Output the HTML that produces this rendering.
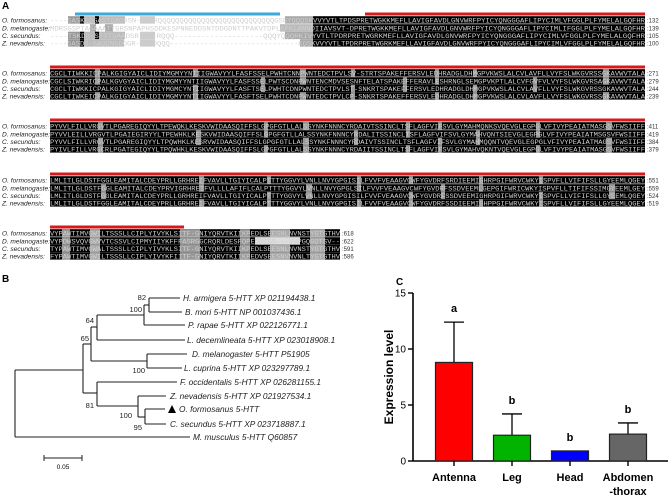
<!DOCTYPE html>
<html><head><meta charset="utf-8"><style>
html,body{margin:0;padding:0;background:#fff;}
svg{display:block;font-family:"Liberation Sans",sans-serif;}
</style></head><body>
<svg id="fig" width="669" height="498" viewBox="0 0 669 498">
<g id="panelA"></g>
<g id="panelB"></g>
<g id="panelC"></g>
</svg>
<script>
const NS="http://www.w3.org/2000/svg";
function mk(parent,tag,attrs,text){const e=document.createElementNS(NS,tag);for(const k in attrs)e.setAttribute(k,attrs[k]);if(text!==undefined)e.textContent=text;parent.appendChild(e);return e;}

/* ---------- Panel A: alignment ---------- */
const species=["O. formosanus:","D. melanogaste:","C. secundus:","Z. nevadensis:"];
const blockTops=[14,67,120,174,227];
const rowOffsets=[6,14,21.5,29];
const endNums=[[132,139,105,100],[271,279,244,239],[411,419,384,379],[551,559,524,519],[618,622,591,586]];
const seqs=[
["----SASKEQGASTQADRSN----RQQQQQQQQQQQQQQQQQQQQQQQQQQQGSGYQQQSKVVYVTLTPDSPRETWGKKMEFLLAVIGFAVDLGNVWRFPYICYQNGGGAFLIPYCIMLVFGGLPLFYMELALGQFHR",
 "MDRSGSPTAGAAATTGRSNPAPHSDDKESPNNEDDSNTDDGDNTTPAKVTDPLAPKLANNDIIAVSVT-DPRETWGKKMEFLLAVIGFAVDLGNVWRFPYICYQNGGGAFLIPYCIMLIFGGLPLFYMELALGQFHR",
 "----TSKDQ-STSTQAADSR----RQQQ--------------------QQQYQQQRKIVYVTLTPDRPRETWGRKMEFLLAVIGFAVDLGNVWRFPYICYQNGGGAFLIPYCIMLVFGGLPLFYMELALGQFHR",
 "----SASDQ-GAQDNGDGGR----DQQQ------------------------------KQSKVVYVTLTPDRPRETWGRKMEFLLAVIGFAVDLGNVWRFPYICYQNGGGAFLIPYCIMLVFGGLPLFYMELALGQFHR"],
["CGCLTIWKKICPALKGIGYAICLIDIYMGMYYNTIIGWAVYYLFASFSSELPWHTCNNPWNTEDCTPVLSV-STRTSPAKEFFERSVLEDHRADGLDHMGPVKWSLALCVLAVFLLVYFSLWKGVRSSGKAVWVTALA",
 "CGCLSIWKRICPALKGVGYAICLIDIYMGMYYNTIIGWAVYYLFASFSSELPWTSCDNPWNTENCMDVSESNFTELATSPAKEFFERAVLESHRNGLSEMGPVKPTLALCVFGVFVLVYFSLWKGVRSAGKAVWVTALA",
 "CGCLTIWKKICPALKGIGYAICLIDIYMGMCYNTIIGWAVYYLFASFTSELPWHTCDNPWNTEDCTPVLST-SNKRTSPAKEFFERSVLEDHRADGLDHMGPVKWSLALCVLAVFLLVYFSLWKGVRSSGKAVWVTALA",
 "CGCLTIWKEICPALKGIGYAICLIDIYMGMYYNTIIGWAVYYLFASFTSELPWHTCDNPWNTEDCTPVLCP-SNKRTSPAKEFFERSVLEDHRADGLDHMGPVKWSLALCVLAVFLLVYFSLWKGVRSSGKAVWVTALA"],
["PYVVLFILLVRGVTLPGAREGIQYYLTPEWQKLKESKVWIDAASQIFFSLGPGFGTLLALSSYNKFNNNCYRDAIVTSSINCLTSFLAGFVIFSVLGYMAHMQNKSVQEVGLEGPGLVFIVYPEAIATMASGSVFWSIIFF",
 "PYVVLEILLVRGVTLPGAIEGIRYYLTPEWHKLKESKVWIDAASQIFFSLGPGFGTLLALSSYNKFNNNCYRDALITSSINCLTSFLAGFVIFSVLGYMAHVQNTSIEVGLEGPGLVFIVYPEAIATMSGSVFWSIIFF",
 "PYVVLFILLVRGVTLPGAREGIQYYLTPQWHKLKESRVWIDAASQIFFSLGPGFGTLLALSSYNKFNNNCYRDAIVTSSINCLTSFLAGFVIFSVLGYMAHMQQNTVQEVGLEGPGLVFIVYPEAIATMAGSVFWSIIFF",
 "PYIVLFILLVRGCRLPGATEGIQYYLTPQWHKLKESKVWIDAASQIFFSLGPGFGTLLALSSYNKFNNNCYRDAIITSSINCLTSFLAGFVIFSVLGYMAHVQKNTVQEVGLEGPGLVFIVYPEAIATMASGSVFWSIIFF"],
["LMLITLGLDSTFGGLEAMITALCDEYPRLLGRHREIFVAVLLTGIYICALPTTTYGGVYLVNLLNVYGPGISILFVVFVEAAGVCWFYGVDRFSRDIEEMIGHRPGIFWRVCWKYISPVFLLVIFIFSLLGYEEMLQGEY",
 "LMLITLGLDSTFGGLEAMITALCDEYPRVIGRHREIFVLLLLAFIFLCALPTTTYGGVYLVNLLNVYGPGLSILFVVFVEAAGVCWFYGVDRFSSDVEEMLGEPGIFWRICWKYISPVFLLTIFIFSSIMGYEEMLGEY",
 "LMLITLGLDSTFGGLEAMITALCDEYPRLLGRHREIFVAVLLTGIYICALPTTTYGGVYLVNLLNVYGPGISILFVVFVEAAGVCWFYGVDRFSSDVEEMIGHRPGIFWRVCWKYISPVFLLVIFIFSLLGYEEMLQGEY",
 "LMLITLGLDSTFGGLEAMITALCDEYPRLLGRHREIFVAVLLTGIYICALPTTTYGGVYLVNLLNVYGPGISILFVVFVEAAGVCWFYGVDRFSSDIEEMIGHPPGIFWRVCWKYISPVFLLVIFIFSLLGYEEMLQGEY"],
["VYPAWTIMVGWILTSSSLLCIPLYIVYKLSITF-GNIYQRVTKIIKPEDLSEESNLNVNSTYGTGTHV",
 "VYPDWSVQVGWVVTCSSVLCIPMYIIYKFFFASRGGCRQRLDESFQPEDNCGS---VVPGQGQTSV--",
 "TYPAWTIMVGWALTSSSLLCIPLYIVYKLSITF-GNIYQRVTKIIKPEDLSEESNLNVNSTYGTGTHV",
 "FYPAWTIMVGWILTSSSLLCIPLYIVYKFIITF-GNIYQRVTKIIKPEDVSEESNVNVNLTYGTGTHV"]];
const A=document.getElementById('panelA');
const lbl=mk(A,'text',{x:2,y:9,'font-size':10,'font-weight':'bold'},'A');

const seqX=50;
blockTops.forEach((top,b)=>{
  const endX = b===4?340:645;
  // conservation bars
  if(b===0){
    const blue=mk(A,'rect',{x:75,y:top-1.5,width:205,height:3,fill:'#3aa9dc'});
    
    const red=mk(A,'rect',{x:365,y:top-1.5,width:280,height:3,fill:'#d7191c'});
    
  } else {
    const red=mk(A,'rect',{x:50,y:top-1.5,width:(b===4?134:595),height:3,fill:'#d7191c'});
    
  }
  species.forEach((sp,r)=>{
    const y=top+rowOffsets[r];
    const name=mk(A,'text',{x:2,y:y+2.5,'font-size':6.6,'font-style':'italic',fill:'#222'},sp);
    
    // backgrounds
    let segs=[];
    if(b===0){
      if(r===1) segs=[[90,6,'#aaa'],[105,8,'#aaa'],[280,33,'#bbb'],[313,332,'#000']];
      else if(r===3) segs=[[68,12,'#999'],[80,4,'#000'],[84,40,'#bbb'],[140,15,'#ccc'],[300,13,'#aaa'],[313,332,'#000']];
      else segs=[[68,12,'#999'],[80,4,'#000'],[84,18,'#bbb'],[95,4,'#000'],[100,25,'#bbb'],[140,15,'#ccc'],[285,28,'#aaa'],[313,332,'#000']];
      segs.forEach(s=>{s[1]=s[1];});
      segs=segs.map(s=>[s[0],s[0]+s[1],s[2]]);
    } else if(b===4){
      segs=[[50,340,'#000'],[62,70,'#999'],[90,100,'#aaa'],[180,200,'#999'],[240,250,'#999'],[270,290,'#aaa'],[310,325,'#aaa']];
      if(r===1) segs.push([255,300,'#ddd']);
    } else {
      segs=[[50,645,'#000']];
      const greys=[[92,97],[190,195],[258,262],[297,303],[348,352],[400,404],[432,436],[470,474],[530,534],[600,606]];
      greys.forEach((g,i)=>{ if((i+r+b)%3!==0) segs.push([g[0]+b*3,g[1]+b*3,'#999']); });
    }
    segs.forEach(s=>{
      const rc=mk(A,'rect',{x:s[0],y:y-3.8,width:s[1]-s[0],height:7.4,fill:s[2]});
      
    });
    const t=mk(A,'text',{x:seqX,y:y+2.3,'font-size':6.4,'font-family':'Liberation Mono, monospace',fill:'#cfcfcf',textLength:endX-seqX,lengthAdjust:'spacingAndGlyphs'},seqs[b][r]);
    
    const n=mk(A,'text',{x:endX+2,y:y+2.3,'font-size':6,fill:'#333'},':'+endNums[b][r]);
    
  });
});

/* ---------- Panel B: tree ---------- */
const B=document.getElementById('panelB');
const bl=mk(B,'text',{x:2,y:282,'font-size':10,'font-weight':'bold'},'B');

const lines=[
 // root
 [15,370,15,437],[15,370,83,370],[15,437,190,437],
 // node A
 [83,344,83,393],[83,344,91,344],[83,393,97,393],
 // node65
 [91,327,91,361],[91,327,97,327],[91,361,147,361],
 // node64
 [97,315,97,340],[97,315,144,315],[97,340,185,340],
 // node100 butterflies
 [144,305,144,325],[144,305,149,305],[144,325,185,325],
 // node82
 [149,298,149,312],[149,298,180,298],[149,312,182,312],
 // D.mel/L.cup
 [147,354,147,368],[147,354,187,354],[147,368,182,368],
 // node81
 [97,382,97,406],[97,382,177,382],[97,406,138,406],
 [138,396,138,417],[138,396,166,396],[138,417,145,417],
 [145,409,145,424],[145,409,165,409],[145,424,166,424]
];
lines.forEach(l=>{const e=mk(B,'line',{x1:l[0],y1:l[1],x2:l[2],y2:l[3],stroke:'#222','stroke-width':1.1});
 });
const leaves=[[183,298,"H. armigera 5-HTT XP 021194438.1"],[185,312,"B. mori 5-HTT NP 001037436.1"],[188,325,"P. rapae 5-HTT XP 022126771.1"],
 [187,340,"L. decemlineata 5-HTT XP 023018908.1"],[192,354,"D. melanogaster 5-HTT P51905"],[184,368,"L. cuprina 5-HTT XP 023297789.1"],
 [180,382,"F. occidentalis 5-HTT XP 026281155.1"],[170,396,"Z. nevadensis 5-HTT XP 021927534.1"],[179,409,"O. formosanus 5-HTT"],
 [170,424,"C. secundus 5-HTT XP 023718887.1"],[193,437,"M. musculus 5-HTT Q60857"]];
leaves.forEach(l=>{const e=mk(B,'text',{x:l[0],y:l[1]+3,'font-size':8.3,'font-style':'italic',fill:'#222'},l[2]);
 });
const tri=mk(B,'polygon',{points:'168,413 172,405 176,413',fill:'#000'});

const boots=[[146,300,"82"],[142,312,"100"],[94,323,"64"],[89,341,"65"],[145,373,"100"],[94,408,"81"],[132,418,"100"],[142,430,"95"]];
boots.forEach(b=>{const e=mk(B,'text',{x:b[0],y:b[1],'font-size':7.5,'text-anchor':'end',fill:'#222'},b[2]);
 });
[[44,458,82,458],[44,455,44,461],[82,455,82,461]].forEach(l=>{const e=mk(B,'line',{x1:l[0],y1:l[1],x2:l[2],y2:l[3],stroke:'#222','stroke-width':1});
 });
const sb=mk(B,'text',{x:63,y:469,'font-size':6.5,'text-anchor':'middle'},'0.05');


/* ---------- Panel C: bar chart ---------- */
const categories=["Antenna","Leg","Head","Abdomen"];
const means=[8.8,2.3,0.9,2.4];
const errors=[3.6,1.9,0,1.0];
const sigLetters=["a","b","b","b"];
const barColors=["#ff0000","#00b400","#0000ff","#666666"];
const yTicks=[0,5,10,15];
const C=document.getElementById('panelC');
const y0=461, pxPerUnit=11.2, axisX=413;
const yScale=v=>y0-v*pxPerUnit;
const xCenter=i=>454+i*58;
const cl=mk(C,'text',{x:396,y:285,'font-size':10,'font-weight':'bold'},'C');

const ya=mk(C,'line',{x1:axisX,y1:yScale(15),x2:axisX,y2:y0,stroke:'#000','stroke-width':1.6});

const xa=mk(C,'line',{x1:axisX,y1:y0,x2:668,y2:y0,stroke:'#000','stroke-width':1.6});

yTicks.forEach(t=>{
  const tk=mk(C,'line',{x1:axisX-5,y1:yScale(t),x2:axisX,y2:yScale(t),stroke:'#000','stroke-width':1.4});
  
  const tl=mk(C,'text',{x:406,y:yScale(t)+3.5,'font-size':10,'text-anchor':'end'},String(t));
  
});
const yt=mk(C,'text',{x:0,y:0,'font-size':12,'font-weight':'bold','text-anchor':'middle',transform:'translate(393,377) rotate(-90)'},'Expression level');

categories.forEach((c,i)=>{
  const cx=xCenter(i), top=yScale(means[i]);
  if(errors[i]>0){
    const el=mk(C,'line',{x1:cx,y1:yScale(means[i]+errors[i]),x2:cx,y2:top,stroke:'#000','stroke-width':1.3});
    
    const ec=mk(C,'line',{x1:cx-10,y1:yScale(means[i]+errors[i]),x2:cx+10,y2:yScale(means[i]+errors[i]),stroke:'#000','stroke-width':1.3});
    
  }
  const r=mk(C,'rect',{x:cx-18.5,y:top,width:37,height:y0-top,fill:barColors[i],stroke:'#222','stroke-width':1.2});
  
  const tk=mk(C,'line',{x1:cx,y1:y0,x2:cx,y2:y0+5,stroke:'#000','stroke-width':1.4});
  
  const lt=mk(C,'text',{x:cx,y:yScale(means[i]+errors[i])-10,'font-size':11,'font-weight':'bold','text-anchor':'middle'},sigLetters[i]);
  
  const xl=mk(C,'text',{x:cx,y:481,'font-size':11,'font-weight':'bold','text-anchor':'middle'},c);
  
});
const x2=mk(C,'text',{x:xCenter(3),y:495,'font-size':11,'font-weight':'bold','text-anchor':'middle'},'-thorax');

</script>
</body></html>
